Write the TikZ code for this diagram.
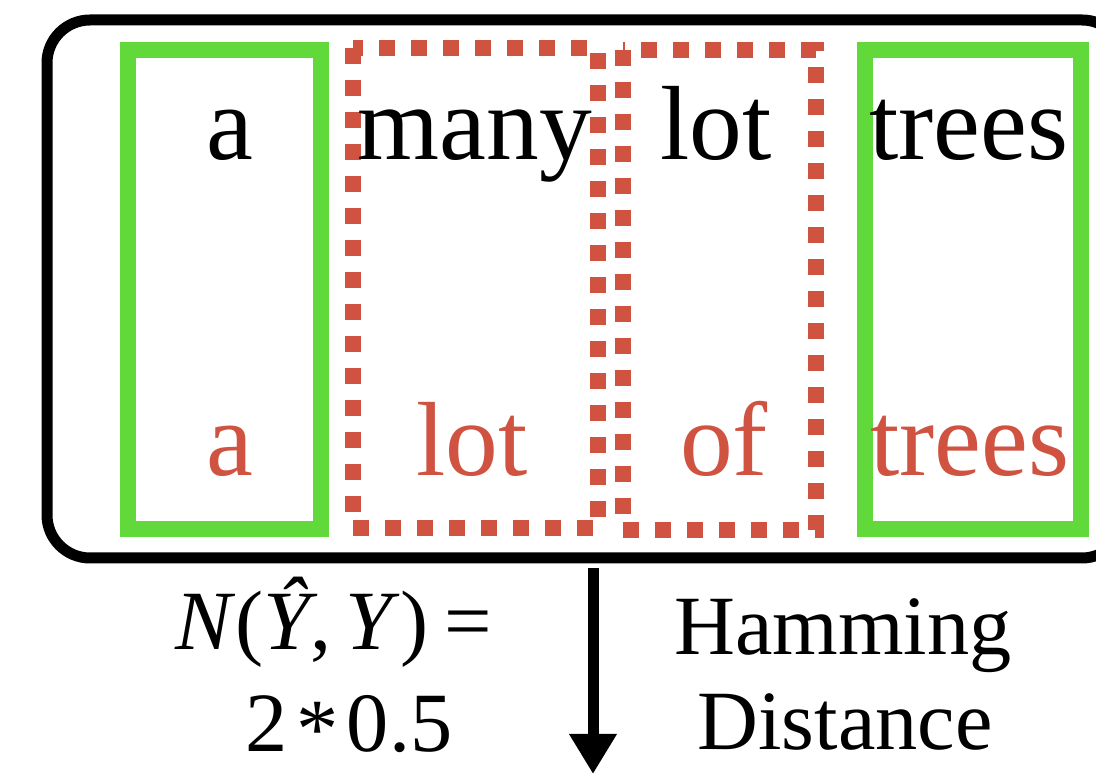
\documentclass[tikz,border=0pt]{standalone}
\usepackage{fontspec}
\setmainfont{Liberation Serif}
\usepackage{xcolor}
\usetikzlibrary{arrows.meta}
\usetikzlibrary{calc}

\definecolor{goldgreen}{RGB}{98,217,58}
\definecolor{predred}{RGB}{207,83,64}

\begin{document}
\begin{tikzpicture}[>=Stealth,
    wordtext/.style={anchor=base, inner sep=0pt, font=\fontsize{30}{36}\selectfont},
    predtext/.style={wordtext, text=predred},
    labeltext/.style={anchor=base, inner sep=0pt, font=\fontsize{24}{29}\selectfont},
    goldbox/.style={draw=goldgreen, line width=0.16cm},
    diffbox/.style={draw=predred, line width=0.16cm, dash pattern=on 0.16cm off 0.16cm}]

    \useasboundingbox (0,0) rectangle (10.96,7.74);

    % outer frame
    \node[draw, line width=0.11cm, rounded corners=0.43cm, inner sep=0pt,
          minimum width=10.78cm, minimum height=5.38cm] (frame) at (5.86,4.85) {};

    % aligned positions
    \draw[goldbox] (1.28,2.45) rectangle (3.21,7.24);
    \draw[diffbox] (3.53,7.26) rectangle (5.98,2.46);
    \draw[diffbox] (6.23,7.24) rectangle (8.16,2.44);
    \draw[goldbox] (8.65,2.45) rectangle (10.81,7.24);

    % hypothesis (top) and reference (bottom)
    \node[wordtext] (h1) at (2.30,6.14) {a};
    \node[wordtext] (h2) at (4.75,6.14) {many};
    \node[wordtext] (h3) at (7.16,6.14) {lot};
    \node[wordtext] (h4) at (9.69,6.14) {trees};

    \node[predtext] (r1) at (2.30,2.98) {a};
    \node[predtext] (r2) at (4.72,2.98) {lot};
    \node[predtext] (r3) at (7.24,2.98) {of};
    \node[predtext] (r4) at (9.70,2.98) {trees};

    % arrow and labels
    \coordinate (T) at (5.93,0);
    \draw[-{Triangle[width=0.45cm,length=0.40cm]}, line width=0.11cm, shorten <=0.05cm]
        (frame.south -| T) -- (T);

    \node[labeltext] (score) at (3.34,1.24) {\textit{N}(\textit{Ŷ},\,\textit{Y})\kern0.2em=};
    \node[labeltext] (value) at (3.49,0.22) {2\kern0.1em\raisebox{-0.15ex}{*}\kern0.1em0.5};
    \node[labeltext] (name1) at (8.43,1.19) {Hamming};
    \node[labeltext] (name2) at (8.45,0.24) {Distance};

\end{tikzpicture}
\end{document}
